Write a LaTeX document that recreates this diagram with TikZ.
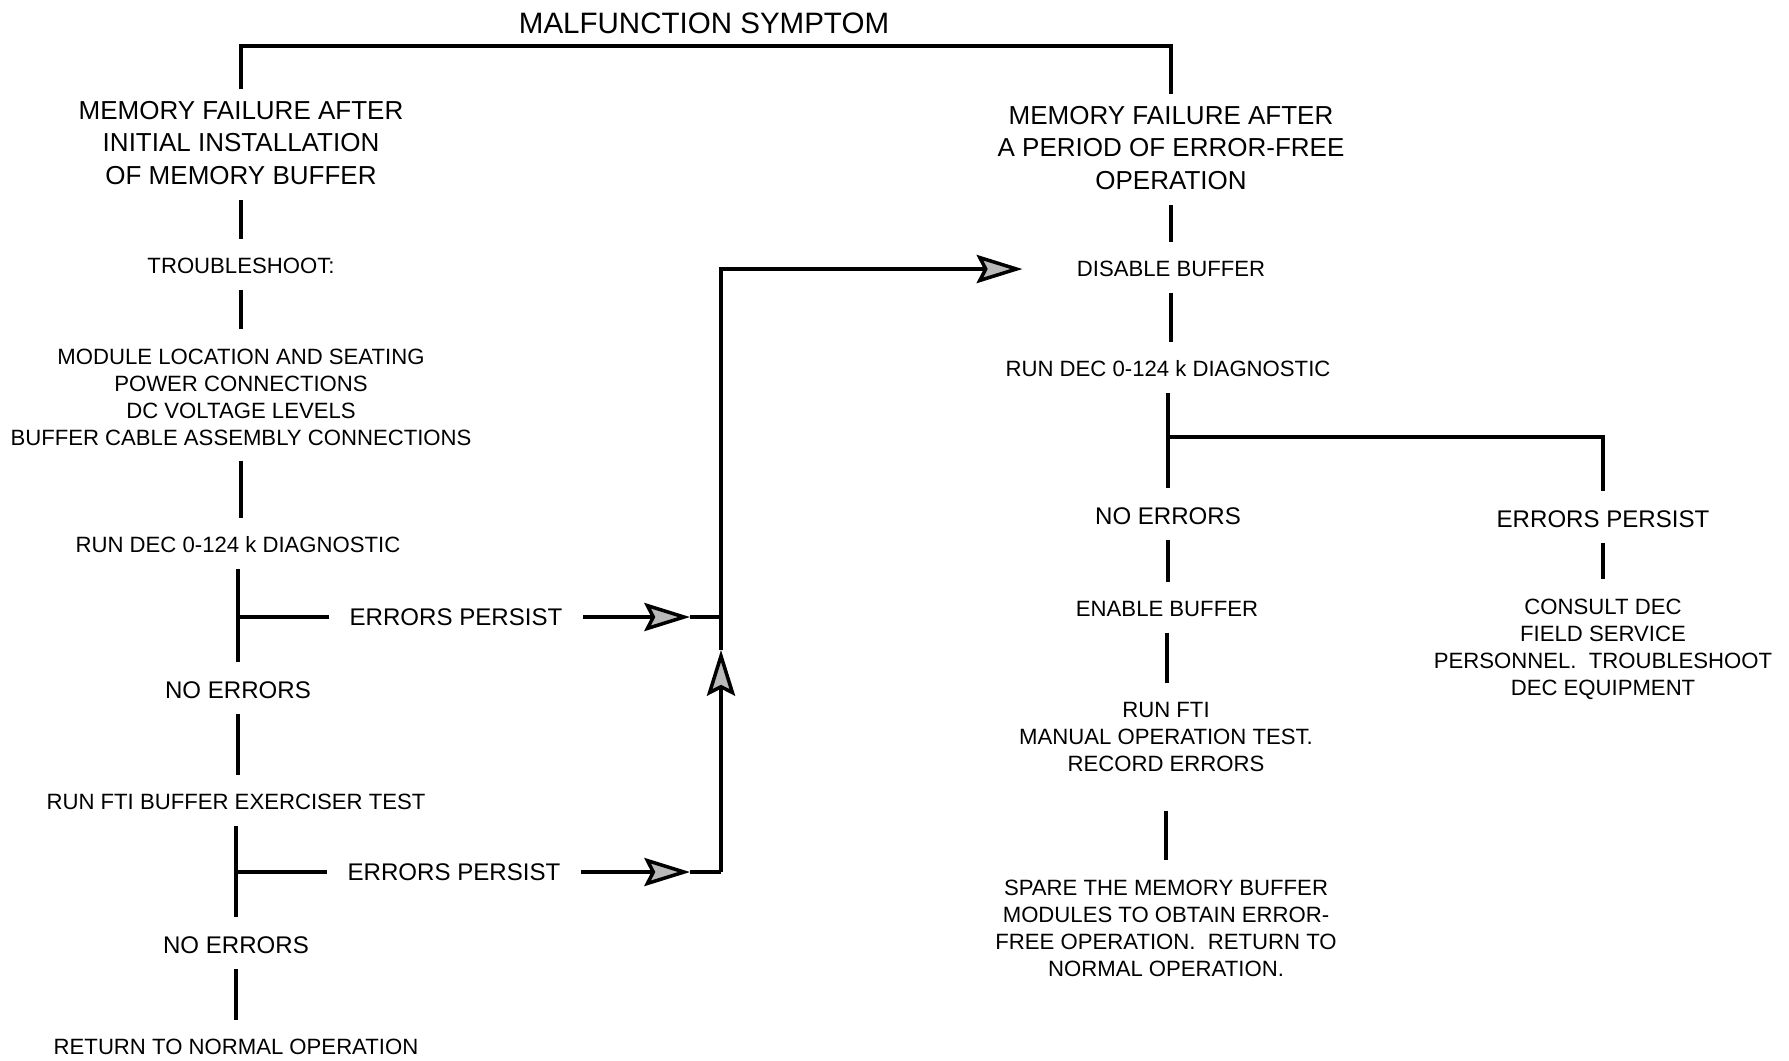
\documentclass[tikz,border=0pt]{standalone}
\usepackage{fontspec}
\setmainfont{Liberation Sans}
\usetikzlibrary{arrows.meta}

\begin{document}
\begin{tikzpicture}[x=0.1mm,y=-0.1mm,line width=1pt]
	\tikzstyle{big}=[inner sep=0pt,align=center,font=\fontsize{7.4}{9.2}\selectfont]
	\tikzstyle{mid}=[inner sep=0pt,align=center,font=\fontsize{6.85}{8.4}\selectfont]
	\tikzstyle{small}=[inner sep=0pt,align=center,font=\fontsize{6.3}{7.7}\selectfont]
	\tikzstyle{link}=[shorten <=4pt,shorten >=5pt]
	\tikzstyle{dart}=[-{Stealth[length=13pt,width=8pt,inset=2pt,fill=gray!55]}]
	
	\useasboundingbox (0,0) rectangle (1789,1060);
	
	\node[inner sep=0pt,font=\fontsize{8.4}{10}\selectfont](sym) at (704,23){MALFUNCTION SYMPTOM};
	
	% left column
	\node[big](fail1) at (241,143){MEMORY FAILURE AFTER\\INITIAL INSTALLATION\\OF MEMORY BUFFER};
	\node[small](ts) at (241,266){TROUBLESHOOT:};
	\node[small](ml) at (241,397){MODULE LOCATION AND SEATING\\POWER CONNECTIONS\\DC VOLTAGE LEVELS\\BUFFER CABLE ASSEMBLY CONNECTIONS};
	\node[small](run1) at (238,545){RUN DEC 0-124 k DIAGNOSTIC};
	\node[mid](ok1) at (238,690){NO ERRORS};
	\node[mid](err1) at (456,617){ERRORS PERSIST};
	\node[small](fti1) at (236,802){RUN FTI BUFFER EXERCISER TEST};
	\node[mid](ok2) at (236,945){NO ERRORS};
	\node[mid](err2) at (454,872){ERRORS PERSIST};
	\node[small](ret) at (236,1047){RETURN TO NORMAL OPERATION};
	
	% right column
	\node[big](fail2) at (1171,148){MEMORY FAILURE AFTER\\A PERIOD OF ERROR-FREE\\OPERATION};
	\node[small](dis) at (1171,269){DISABLE BUFFER};
	\node[small](run2) at (1168,369){RUN DEC 0-124 k DIAGNOSTIC};
	\node[mid](ok3) at (1168,516){NO ERRORS};
	\node[mid](err3) at (1603,519){ERRORS PERSIST};
	\node[small](ena) at (1167,609){ENABLE BUFFER};
	\node[small](fti2) at (1166,737){RUN FTI\\MANUAL OPERATION TEST.\\RECORD ERRORS};
	\node[small](spare) at (1166,928){SPARE THE MEMORY BUFFER\\MODULES TO OBTAIN ERROR-\\FREE OPERATION.\ \ RETURN TO\\NORMAL OPERATION.};
	\node[small](consult) at (1603,649){CONSULT DEC\\FIELD SERVICE\\PERSONNEL.\ \ TROUBLESHOOT\\DEC EQUIPMENT};
	
	\coordinate (bar) at (704,46);
	\coordinate (tip1) at (690,617);
	\coordinate (join1) at (721,617);
	\coordinate (tip2) at (690,872);
	\coordinate (join2) at (721,872);
	\coordinate (tip3) at (721,650);
	
	\draw[shorten <=3pt,shorten >=3pt] (fail1.north) |- (bar) -| (fail2.north);
	
	\draw[link] (fail1.south) -- (fail1.south |- ts.north);
	\draw[link] (ts.south) -- (ts.south |- ml.north);
	\draw[link] (ml.south) -- (ml.south |- run1.north);
	\draw[link] (run1.south) -- (run1.south |- ok1.north);
	\draw[link] (ok1.south) -- (ok1.south |- fti1.north);
	\draw[link] (fti1.south) -- (fti1.south |- ok2.north);
	\draw[link] (ok2.south) -- (ok2.south |- ret.north);
	
	\draw[shorten >=5.4pt] (run1.south |- err1) -- (err1.west);
	\draw[shorten >=5.4pt] (fti1.south |- err2) -- (err2.west);
	\draw[dart,shorten <=5.4pt] (err1.east) -- (tip1);
	\draw (tip1) -- (join1);
	\draw[dart,shorten <=5.4pt] (err2.east) -- (tip2);
	\draw (tip2) -- (join2);
	\draw[dart] (join2) -- (tip3);
	\draw[dart,shorten >=15pt] (tip3) |- (dis.west);
	
	\draw[link] (fail2.south) -- (fail2.south |- dis.north);
	\draw[link] (dis.south) -- (dis.south |- run2.north);
	\draw[link] (run2.south) -- (run2.south |- ok3.north);
	\draw[shorten >=5pt] (run2.south |- 0,437) -| (err3.north);
	\draw[link] (ok3.south) -- (ok3.south |- ena.north);
	\draw[link] (ena.south) -- (ena.south |- fti2.north);
	\draw[link,shorten <=10.7pt] (fti2.south) -- (fti2.south |- spare.north);
	\draw[link] (err3.south) -- (err3.south |- consult.north);
	
\end{tikzpicture}
\end{document}
